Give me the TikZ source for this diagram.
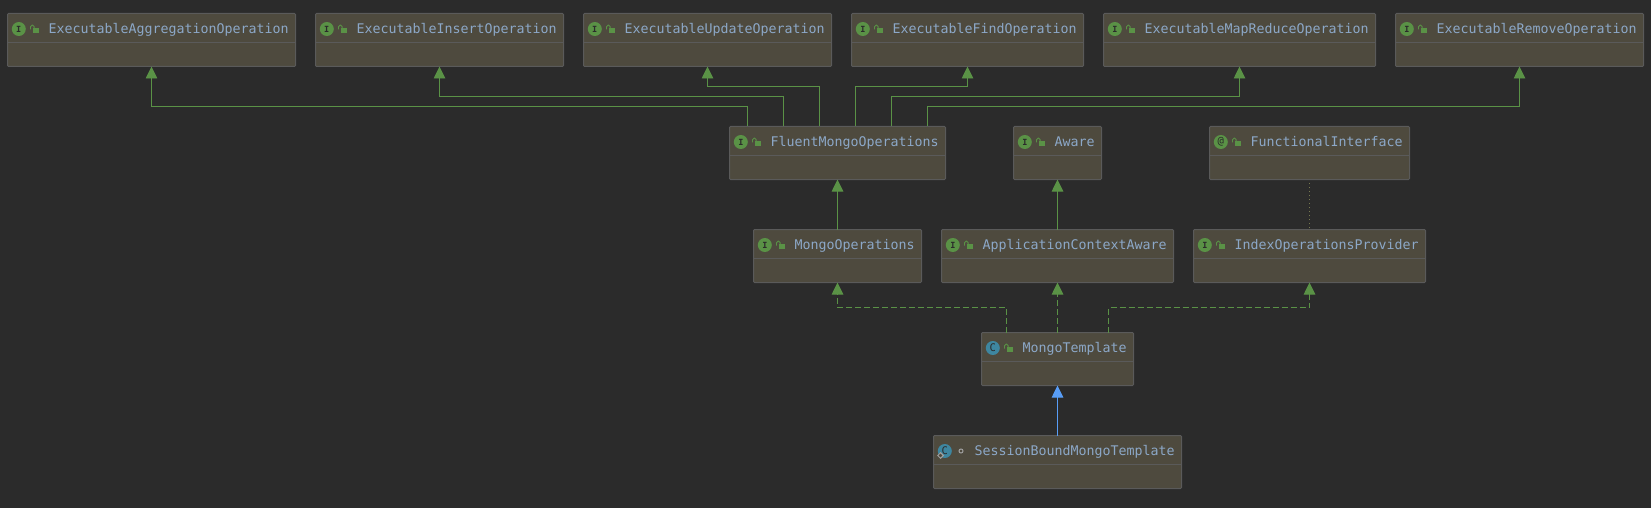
\documentclass[tikz,border=0pt]{standalone}
\usepackage{fontspec}
\setmonofont{DejaVu Sans Mono}
\usepackage{xcolor}
\definecolor{ideback}{RGB}{43, 43, 43}
\definecolor{boxfill}{RGB}{78, 74, 62}
\definecolor{boxedge}{RGB}{90, 90, 90}
\definecolor{nametext}{RGB}{140, 168, 200}
\definecolor{ifgreen}{RGB}{90, 146, 70}
\definecolor{classteal}{RGB}{62, 134, 160}
\definecolor{extblue}{RGB}{88, 157, 246}
\definecolor{dotolive}{RGB}{120, 122, 80}
\definecolor{markgray}{RGB}{160, 160, 160}
\usetikzlibrary{arrows.meta, positioning, shapes.geometric}
% icono + candado + nombre de la clase
\newcommand{\classhead}[4]{
    \draw [divider] ([yshift=-29pt]#1.north west) -- ([yshift=-29pt]#1.north east);
    \node [badge, fill=#3] (#1-badge) at ([xshift=11.3pt,yshift=-15.5pt]#1.north west) {#2};
    \node [classname] (#1-name) at ([xshift=40.9pt,yshift=-20pt]#1.north west) {#4};
}
\newcommand{\lockmark}[1]{
    \fill [ifgreen] ([xshift=25pt,yshift=-14.8pt]#1.north west) rectangle ([xshift=31pt,yshift=-19.6pt]#1.north west);
    \draw [ifgreen, line width=0.9pt, rounded corners=1.6pt] ([xshift=23pt,yshift=-16pt]#1.north west) -- ([xshift=23pt,yshift=-11.6pt]#1.north west) -- ([xshift=26.6pt,yshift=-11.6pt]#1.north west) -- ([xshift=26.6pt,yshift=-15pt]#1.north west);
}
\newcommand{\bigletter}[1]{\fontsize{10.5}{11}\selectfont\mdseries #1}

\begin{document}
\begin{tikzpicture}[x=1pt, y=-1pt,
        classbox/.style={rectangle, draw=boxedge, fill=boxfill, line width=1pt, rounded corners=1pt, minimum height=53pt, inner sep=0pt, outer sep=0pt},
        divider/.style={draw=boxedge, line width=0.8pt},
        classname/.style={anchor=base west, inner sep=0pt, text=nametext, font=\ttfamily\fontsize{13.29}{15}\selectfont},
        badge/.style={circle, minimum size=14pt, inner sep=0pt, text=ideback, font=\ttfamily\bfseries\fontsize{8.5}{10}\selectfont},
        line/.style={draw=ifgreen, -{Triangle[length=12pt,width=11.5pt]}, line width=0.9pt},
        implements/.style={line, dash pattern=on 6pt off 3pt},
        extends/.style={draw=extblue, -{Triangle[length=12pt,width=11.5pt]}, line width=0.9pt},
        annotated/.style={draw=dotolive, line width=0.9pt, dash pattern=on 1pt off 3pt, shorten >=3pt, shorten <=2pt}]

    \useasboundingbox [fill=ideback] (0,0) rectangle (1651,508);

    % Fila 1
    \node [classbox, minimum width=288pt, anchor=north west] (aggregation) at (7.5,13.5) {};
    \node [classbox, minimum width=248pt, right=20pt of aggregation] (insert) {};
    \node [classbox, minimum width=248pt, right=20pt of insert] (update) {};
    \node [classbox, minimum width=232pt, right=20pt of update] (find) {};
    \node [classbox, minimum width=272pt, right=20pt of find] (mapreduce) {};
    \node [classbox, minimum width=248pt, right=20pt of mapreduce] (remove) {};

    % Fila 2
    \node [classbox, minimum width=216pt, below=60pt of find, xshift=-130pt] (fluent) {};
    \node [classbox, minimum width=88pt, right=68pt of fluent] (aware) {};
    \node [classbox, minimum width=200pt, right=108pt of aware] (functional) {};

    % Fila 3
    \node [classbox, minimum width=168pt, below=50pt of fluent] (operations) {};
    \node [classbox, minimum width=232pt, below=50pt of aware] (contextaware) {};
    \node [classbox, minimum width=232pt, below=50pt of functional] (provider) {};

    % Filas 4 y 5
    \node [classbox, minimum width=152pt, below=50pt of contextaware] (template) {};
    \node [classbox, minimum width=248pt, below=50pt of template] (session) {};

    \classhead{aggregation}{I}{ifgreen}{ExecutableAggregationOperation}
    \classhead{insert}{I}{ifgreen}{ExecutableInsertOperation}
    \classhead{update}{I}{ifgreen}{ExecutableUpdateOperation}
    \classhead{find}{I}{ifgreen}{ExecutableFindOperation}
    \classhead{mapreduce}{I}{ifgreen}{ExecutableMapReduceOperation}
    \classhead{remove}{I}{ifgreen}{ExecutableRemoveOperation}
    \classhead{fluent}{I}{ifgreen}{FluentMongoOperations}
    \classhead{aware}{I}{ifgreen}{Aware}
    \classhead{functional}{\bigletter{@}}{ifgreen}{FunctionalInterface}
    \classhead{operations}{I}{ifgreen}{MongoOperations}
    \classhead{contextaware}{I}{ifgreen}{ApplicationContextAware}
    \classhead{provider}{I}{ifgreen}{IndexOperationsProvider}
    \classhead{template}{\bigletter{C}}{classteal}{MongoTemplate}
    \classhead{session}{\bigletter{C}}{classteal}{SessionBoundMongoTemplate}

    \foreach \boxname in {aggregation, insert, update, find, mapreduce, remove, fluent, aware, functional, operations, contextaware, provider, template}
        {\lockmark{\boxname}}

    % marcas de session
    \node [diamond, aspect=1, draw=markgray, fill=boxfill, line width=1pt, minimum size=6pt, inner sep=0pt] (session-static) at ([xshift=7pt,yshift=-20pt]session.north west) {};
    \node [circle, draw=markgray, line width=1pt, minimum size=4pt, inner sep=0pt] (session-local) at ([xshift=27.5pt,yshift=-15.5pt]session.north west) {};

    % Conexiones
    \path [line] ([xshift=-90pt]fluent.north) |- ([yshift=-40pt]aggregation.south) -- (aggregation.south);
    \path [line] ([xshift=-54pt]fluent.north) |- ([yshift=-30pt]insert.south) -- (insert.south);
    \path [line] ([xshift=-18pt]fluent.north) |- ([yshift=-20pt]update.south) -- (update.south);
    \path [line] ([xshift=18pt]fluent.north) |- ([yshift=-20pt]find.south) -- (find.south);
    \path [line] ([xshift=54pt]fluent.north) |- ([yshift=-30pt]mapreduce.south) -- (mapreduce.south);
    \path [line] ([xshift=90pt]fluent.north) |- ([yshift=-40pt]remove.south) -- (remove.south);
    \path [line] (operations) -- (fluent);
    \path [line] (contextaware) -- (aware);
    \path [annotated] (provider) -- (functional);
    \path [implements] ([xshift=-51pt]template.north) |- ([yshift=-25pt]operations.south) -- (operations.south);
    \path [implements] (template) -- (contextaware);
    \path [implements] ([xshift=51pt]template.north) |- ([yshift=-25pt]provider.south) -- (provider.south);
    \path [extends] (session) -- (template);
\end{tikzpicture}
\end{document}
